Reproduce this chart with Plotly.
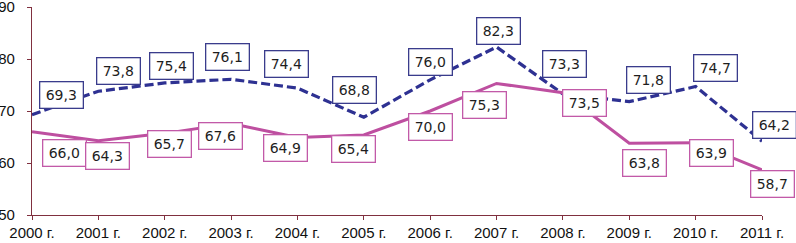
import plotly.graph_objects as go

years = [2000, 2001, 2002, 2003, 2004, 2005, 2006, 2007, 2008, 2009, 2010, 2011]
tick_labels = ["2000 г.", "2001 г.", "2002 г.", "2003 г.", "2004 г.", "2005 г.",
               "2006 г.", "2007 г.", "2008 г.", "2009 г.", "2010 г.", "2011 г."]
blue_values = [69.3, 73.8, 75.4, 76.1, 74.4, 68.8, 76.0, 82.3, 73.3, 71.8, 74.7, 64.2]
pink_values = [66.0, 64.3, 65.7, 67.6, 64.9, 65.4, 70.0, 75.3, 73.5, 63.8, 63.9, 58.7]

# label offsets in screen pixels (dx right, dy down) relative to each point
blue_offsets = [(29, -20), (20, -20), (7, -17), (-4, -22), (-11, -24), (-9, -27),
                (0, -18), (2, -16), (2, -30), (19, -22), (20, -19), (12, -16)]
pink_offsets = [(32, 21), (9, 15), (5, 11), (-11, 13), (-12, 10), (-10, 14),
                (0, 16), (-12, 22), (22, 10), (15, 20), (16, 10), (10, 14)]

BLUE = "#2E3192"
PINK = "#BE4FA0"
AXIS = "#80303F"

fig = go.Figure()
fig.add_trace(go.Scatter(x=years, y=blue_values, mode="lines",
                         line=dict(color=BLUE, width=3.2, dash="9px,4px"),
                         hoverinfo="skip", showlegend=False, cliponaxis=False))
fig.add_trace(go.Scatter(x=years, y=pink_values, mode="lines",
                         line=dict(color=PINK, width=3),
                         hoverinfo="skip", showlegend=False, cliponaxis=False))

def fmt(v):
    return f"{v:.1f}".replace(".", ",")

annotations = []
for vals, offs, col in [(blue_values, blue_offsets, "#3A3C8C"),
                        (pink_values, pink_offsets, "#C25AA8")]:
    for x, v, (dx, dy) in zip(years, vals, offs):
        annotations.append(dict(
            x=x, y=v, xref="x", yref="y", text=fmt(v), showarrow=False,
            xshift=dx, yshift=-dy,
            font=dict(family="DejaVu Sans", size=14, color="#1E1E1E"),
            bgcolor="white", bordercolor=col, borderwidth=1.3, borderpad=4,
            width=34, height=17, align="center", valign="middle",
        ))

fig.update_layout(
    width=796, height=243,
    margin=dict(l=32, r=34, t=7, b=28),
    paper_bgcolor="white", plot_bgcolor="white",
    annotations=annotations,
    xaxis=dict(range=[2000, 2011], tickmode="array", tickvals=years, ticktext=tick_labels,
               showgrid=False, zeroline=False, showline=True, linecolor=AXIS, linewidth=1.3,
               ticks="outside", ticklen=4, tickcolor=AXIS, automargin=False,
               ticklabeloverflow="allow",
               tickfont=dict(family="Liberation Sans", size=15, color="#111")),
    yaxis=dict(range=[50, 90], tickvals=[50, 60, 70, 80, 90],
               showgrid=False, zeroline=False, showline=True, linecolor=AXIS, linewidth=1.3,
               ticks="outside", ticklen=4, tickcolor=AXIS, ticklabelstandoff=9,
               automargin=False, ticklabeloverflow="allow",
               tickfont=dict(family="Liberation Sans", size=15, color="#111")),
)

fig.write_html("out.html", config={"displayModeBar": False},
               post_script="document.body.style.margin='0';document.body.style.padding='0';")
